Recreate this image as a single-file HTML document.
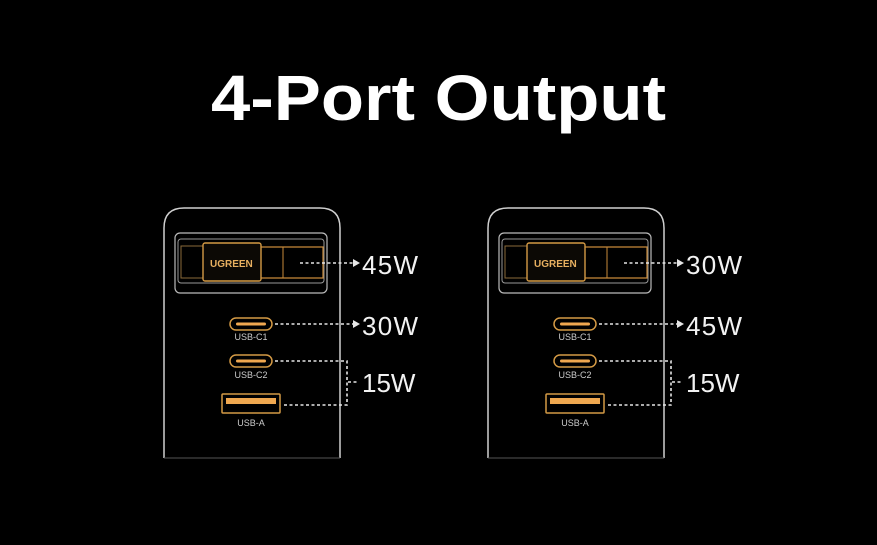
<!DOCTYPE html>
<html><head><meta charset="utf-8"><style>
html,body{margin:0;padding:0;background:#000;}
svg{display:block}
</style></head><body>
<svg width="877" height="545" viewBox="0 0 877 545" xmlns="http://www.w3.org/2000/svg">
<rect width="877" height="545" fill="#000"/>
<text x="211" y="120" font-family="Liberation Sans, sans-serif" font-weight="bold" font-size="64" fill="#fff" textLength="455" lengthAdjust="spacingAndGlyphs">4-Port Output</text>
<defs>
<g id="dev">
  <path d="M164,458 L164,228 Q164,208 184,208 L320,208 Q340,208 340,228 L340,458" fill="none" stroke="#cfcfcf" stroke-width="1.5"/>
  <line x1="164" y1="458" x2="340" y2="458" stroke="#555" stroke-width="1"/>
  <rect x="175" y="233" width="152" height="60" rx="5" fill="none" stroke="#bbb" stroke-width="1.2"/>
  <rect x="178" y="239" width="146" height="44" rx="3" fill="none" stroke="#999" stroke-width="1"/>
  <rect x="181" y="246" width="22" height="32" fill="none" stroke="#8a6a3a" stroke-width="1"/>
  <path d="M260,247 L323,247 L323,278 L260,278" fill="none" stroke="#c88a3a" stroke-width="1.2"/>
  <line x1="283" y1="247" x2="283" y2="278" stroke="#c88a3a" stroke-width="1"/>
  <rect x="203" y="243" width="58" height="38" rx="2" fill="#0c0905" stroke="#d49a45" stroke-width="1.4"/>
  <text x="210" y="267" font-family="Liberation Sans, sans-serif" font-weight="bold" font-size="10" fill="#e8b060">UGREEN</text>
  <rect x="230" y="318" width="42" height="12" rx="6" fill="none" stroke="#d49a45" stroke-width="1.5"/>
  <rect x="236" y="322.5" width="30" height="3" rx="1.5" fill="#f0a850"/>
  <text x="251" y="340" text-anchor="middle" font-family="Liberation Sans, sans-serif" font-size="9" fill="#ccc">USB-C1</text>
  <rect x="230" y="355" width="42" height="12" rx="6" fill="none" stroke="#d49a45" stroke-width="1.5"/>
  <rect x="236" y="359.5" width="30" height="3" rx="1.5" fill="#f0a850"/>
  <text x="251" y="378" text-anchor="middle" font-family="Liberation Sans, sans-serif" font-size="9" fill="#ccc">USB-C2</text>
  <rect x="222" y="394" width="58" height="19" rx="1" fill="none" stroke="#d49a45" stroke-width="1.5"/>
  <rect x="226" y="398" width="50" height="6" fill="#f0a850"/>
  <text x="251" y="426" text-anchor="middle" font-family="Liberation Sans, sans-serif" font-size="9" fill="#ccc">USB-A</text>
  <g stroke="#e6e6e6" stroke-width="1.6" stroke-dasharray="3,2.5" fill="none">
    <line x1="300" y1="263" x2="354" y2="263"/>
    <line x1="275" y1="324" x2="354" y2="324"/>
    <polyline points="275,361 347,361 347,405 283,405"/>
    <line x1="348" y1="382" x2="358" y2="382"/>
  </g>
  <path d="M353,259 L360,263 L353,267 Z" fill="#e6e6e6"/>
  <path d="M353,320 L360,324 L353,328 Z" fill="#e6e6e6"/>
</g>
</defs>
<use href="#dev"/>
<use href="#dev" transform="translate(324,0)"/>
<g font-family="Liberation Sans, sans-serif" font-size="26" fill="#f2f2f2" lengthAdjust="spacingAndGlyphs">
<text x="362" y="274" textLength="56">45W</text>
<text x="362" y="335" textLength="56">30W</text>
<text x="362" y="392">15W</text>
<text x="686" y="274" textLength="56">30W</text>
<text x="686" y="335" textLength="56">45W</text>
<text x="686" y="392">15W</text>
</g>
</svg>
</body></html>
